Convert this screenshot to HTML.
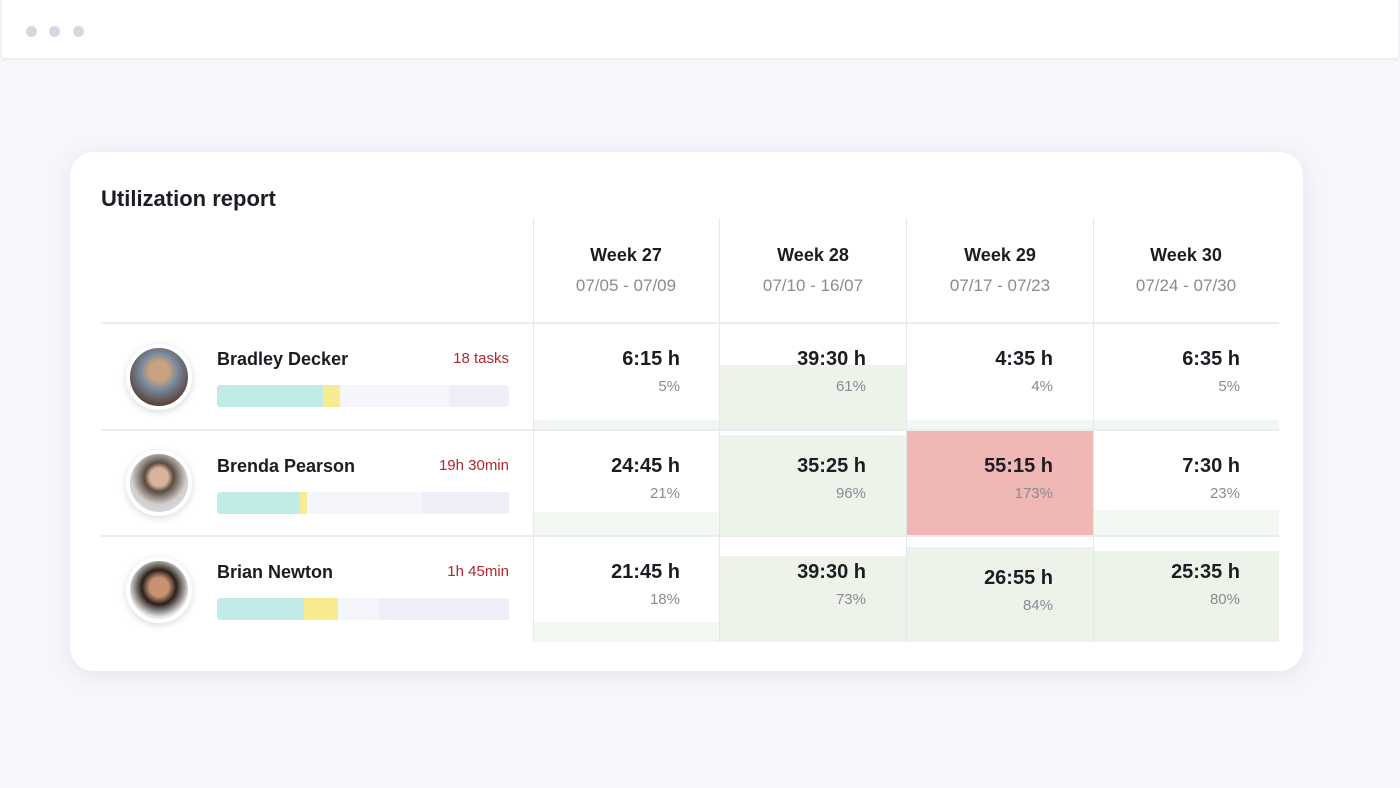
<!DOCTYPE html>
<html><head><meta charset="utf-8"><style>
*{margin:0;padding:0;box-sizing:border-box}
body{width:1400px;height:788px;background:#f6f7fb;font-family:"Liberation Sans",sans-serif;position:relative;overflow:hidden;color:#1c1c22}
.a{position:absolute}
.top{left:2px;top:0;width:1396px;height:58px;background:#fff;box-shadow:0 1px 3px rgba(0,0,0,.08)}
.dot{width:11px;height:11px;border-radius:50%;background:#d6d7e6;top:26px}
.card{left:70px;top:152px;width:1233px;height:519px;background:#fff;border-radius:24px;box-shadow:0 4px 24px rgba(30,30,60,.08)}
.vl{width:1px;background:#e6e7ee;top:218px;height:424px}
.hl{height:2px;background:#ebebf2;left:101px;width:1178px}
.wk{width:186px;text-align:center;font-size:18px;font-weight:bold;top:245px}
.dt{width:186px;text-align:center;font-size:17px;color:#8a8a94;top:276px}
.g{background:#ecf4ea}.gl{background:#f2f8f1}
.t{font-size:20px;font-weight:bold;text-align:right;width:150px}
.p{font-size:15px;color:#8a8a94;text-align:right;width:150px}
.av{width:66px;height:66px;border-radius:50%;border:4px solid #fff;box-shadow:0 2px 8px rgba(0,0,0,.15)}
.nm{font-size:18px;font-weight:bold;left:217px}
.rd{font-size:15px;color:#b3262e;text-align:right;width:150px;left:359px}
.bar{left:217px;width:292px;height:22px;border-radius:3px;overflow:hidden;background:#f5f6fb}
.bar div{position:absolute;top:0;height:22px}
</style></head><body>
<div class="a top"></div>
<div class="a dot" style="left:26px"></div><div class="a dot" style="left:49px"></div><div class="a dot" style="left:73px"></div>
<div class="a card"></div>
<div class="a" style="left:101px;top:186px;font-size:22px;font-weight:bold">Utilization report</div>

<div class="a gl" style="left:534px;top:420px;width:185px;height:10px"></div>
<div class="a g" style="left:720px;top:365px;width:186px;height:65px"></div>
<div class="a gl" style="left:907px;top:420px;width:186px;height:10px"></div>
<div class="a gl" style="left:1094px;top:420px;width:185px;height:10px"></div>
<div class="a gl" style="left:534px;top:512px;width:185px;height:24px"></div>
<div class="a g" style="left:720px;top:435px;width:186px;height:101px"></div>
<div class="a" style="left:907px;top:431px;width:186px;height:104px;background:#f0b8b5"></div>
<div class="a gl" style="left:1094px;top:510px;width:185px;height:26px"></div>
<div class="a gl" style="left:534px;top:622px;width:185px;height:20px"></div>
<div class="a g" style="left:720px;top:556px;width:186px;height:86px"></div>
<div class="a g" style="left:907px;top:547px;width:186px;height:95px"></div>
<div class="a g" style="left:1094px;top:551px;width:185px;height:91px"></div>

<div class="a vl" style="left:533px"></div><div class="a vl" style="left:719px"></div><div class="a vl" style="left:906px"></div><div class="a vl" style="left:1093px"></div>
<div class="a hl" style="top:322px"></div><div class="a hl" style="top:429px"></div><div class="a hl" style="top:535px"></div>

<div class="a wk" style="left:533px">Week 27</div><div class="a dt" style="left:533px">07/05 - 07/09</div>
<div class="a wk" style="left:720px">Week 28</div><div class="a dt" style="left:720px">07/10 - 16/07</div>
<div class="a wk" style="left:907px">Week 29</div><div class="a dt" style="left:907px">07/17 - 07/23</div>
<div class="a wk" style="left:1093px">Week 30</div><div class="a dt" style="left:1093px">07/24 - 07/30</div>

<div class="a t" style="left:530px;top:348px">6:15 h</div><div class="a p" style="left:530px;top:378px">5%</div>
<div class="a t" style="left:716px;top:348px">39:30 h</div><div class="a p" style="left:716px;top:378px">61%</div>
<div class="a t" style="left:903px;top:348px">4:35 h</div><div class="a p" style="left:903px;top:378px">4%</div>
<div class="a t" style="left:1090px;top:348px">6:35 h</div><div class="a p" style="left:1090px;top:378px">5%</div>
<div class="a t" style="left:530px;top:455px">24:45 h</div><div class="a p" style="left:530px;top:485px">21%</div>
<div class="a t" style="left:716px;top:455px">35:25 h</div><div class="a p" style="left:716px;top:485px">96%</div>
<div class="a t" style="left:903px;top:455px">55:15 h</div><div class="a p" style="left:903px;top:485px">173%</div>
<div class="a t" style="left:1090px;top:455px">7:30 h</div><div class="a p" style="left:1090px;top:485px">23%</div>
<div class="a t" style="left:530px;top:561px">21:45 h</div><div class="a p" style="left:530px;top:591px">18%</div>
<div class="a t" style="left:716px;top:561px">39:30 h</div><div class="a p" style="left:716px;top:591px">73%</div>
<div class="a t" style="left:903px;top:567px">26:55 h</div><div class="a p" style="left:903px;top:597px">84%</div>
<div class="a t" style="left:1090px;top:561px">25:35 h</div><div class="a p" style="left:1090px;top:591px">80%</div>

<div class="a av" style="left:126px;top:344px;background:radial-gradient(circle at 50% 40%,#c9a27f 0 22%,#7a8aa0 40%,#5a4238 75%)"></div>
<div class="a av" style="left:126px;top:450px;background:radial-gradient(circle at 50% 40%,#d9b49c 0 20%,#5a4a40 32%,#cfcfcf 60%,#e2e2e2)"></div>
<div class="a av" style="left:126px;top:557px;background:radial-gradient(circle at 50% 45%,#c89272 0 22%,#2a1f1a 40%,#e8e8e8 70%)"></div>

<div class="a nm" style="top:349px">Bradley Decker</div><div class="a rd" style="top:350px">18 tasks</div>
<div class="a bar" style="top:385px"><div style="left:0;width:106px;background:#c0ebe6"></div><div style="left:106px;width:17px;background:#f8ea90"></div><div style="left:232px;width:60px;background:#eeeff8"></div></div>
<div class="a nm" style="top:456px">Brenda Pearson</div><div class="a rd" style="top:457px">19h 30min</div>
<div class="a bar" style="top:492px"><div style="left:0;width:83px;background:#c0ebe6"></div><div style="left:83px;width:7px;background:#f8ea90"></div><div style="left:205px;width:87px;background:#eeeff8"></div></div>
<div class="a nm" style="top:562px">Brian Newton</div><div class="a rd" style="top:563px">1h 45min</div>
<div class="a bar" style="top:598px"><div style="left:0;width:87px;background:#c0ebe6"></div><div style="left:87px;width:34px;background:#f8ea90"></div><div style="left:162px;width:130px;background:#eeeff8"></div></div>
</body></html>
